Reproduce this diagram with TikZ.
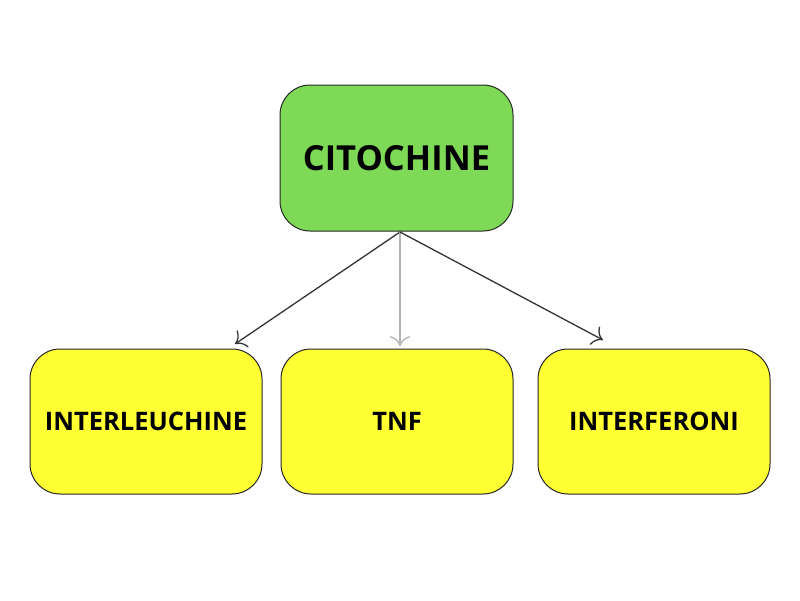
\documentclass[tikz,border=0pt]{standalone}
\usepackage{fontspec}
\usetikzlibrary{arrows.meta}
\setmainfont{Open Sans}
\definecolor{boxgreen}{RGB}{126,217,87}
\definecolor{boxyellow}{RGB}{255,255,51}
\tikzset{
  base/.style={draw=black!85, line width=1pt, rounded corners=30pt, inner sep=0pt},
  topbox/.style={base, fill=boxgreen, minimum width=233pt, minimum height=146pt, font=\fontsize{34.5}{40}\selectfont\bfseries},
  leafbox/.style={base, fill=boxyellow, minimum width=232pt, minimum height=145pt, font=\fontsize{25.5}{30}\selectfont\bfseries},
  conn/.style={-{To[scale=2.2]}, line width=1.3pt, draw=black!80},
  connlight/.style={-{To[scale=2.2]}, line width=1.3pt, draw=black!30}
}
\begin{document}
\begin{tikzpicture}[x=1pt,y=-1pt]
\useasboundingbox (0,0) rectangle (800,600);
\node[topbox] (top) at (396.5,158) {CITOCHINE};
\node[leafbox] (l) at (146,421.5) {INTERLEUCHINE};
\node[leafbox] (m) at (397,421.5) {TNF};
\node[leafbox] (r) at (654,421.5) {INTERFERONI};
\coordinate (src) at (400,232);
\coordinate (lt) at (235,344);
\coordinate (mt) at (400,346);
\coordinate (rt) at (603,340);
\draw[conn] (src) -- (lt);
\draw[connlight] (src) -- (mt);
\draw[conn] (src) -- (rt);
\end{tikzpicture}
\end{document}
